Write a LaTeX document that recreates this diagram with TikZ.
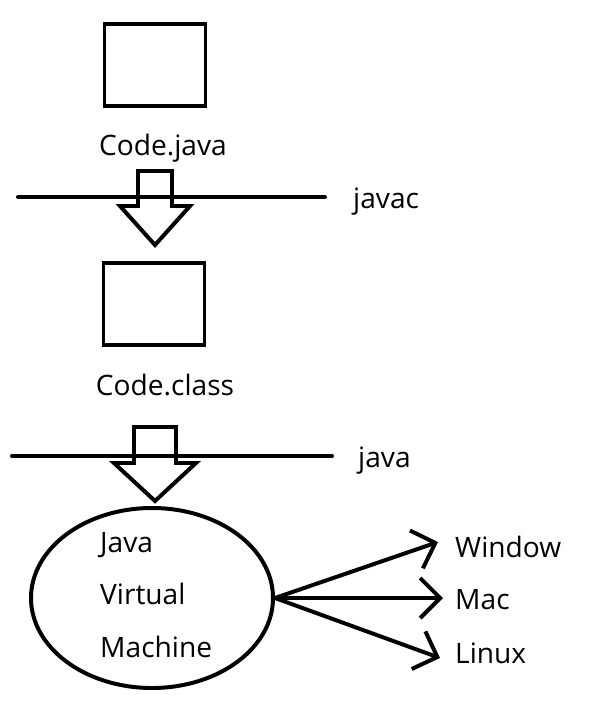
\documentclass[tikz,border=0pt]{standalone}
\usepackage{fontspec}
\setmainfont{Open Sans}
\usetikzlibrary{positioning,arrows.meta,shapes.geometric}

\begin{document}
\begin{tikzpicture}[
  x=0.03cm, y=-0.03cm,
  every node/.style={font=\fontsize{24}{28}\selectfont, inner sep=0pt},
  thickline/.style={line width=3.4pt, line cap=round},
  filebox/.style={draw, line width=3.4pt, minimum width=3.03cm, minimum height=2.46cm},
  lbl/.style={anchor=base west},
  vmarrow/.style={line width=3.4pt, -{Straight Barb[length=0.6cm, width=1.2cm, line width=3.4pt]}},
]
  \useasboundingbox (0,0) rectangle (588,705);

  % source file
  \node[filebox] (src) at (155,65) {};
  \node[anchor=base] (srcname) at (163,155) {Code.java};

  % javac step
  \coordinate (c1l) at (18,197);
  \coordinate (c1r) at (325,197);
  \draw[thickline] (c1l) -- (c1r);
  \node[lbl] (javac) at (353,208) {javac};
  \coordinate (a1) at (155,171);
  \draw[line width=3.4pt, line join=miter]
    (a1) ++(-17,0) -- ++(0,35) -- ++(-18,0) -- ++(35,39) -- ++(35,-39)
    -- ++(-18,0) -- ++(0,-35) -- cycle;

  % class file
  \node[filebox] (cls) at (154,304) {};
  \node[anchor=base] (clsname) at (165,395) {Code.class};

  % java step
  \coordinate (c2l) at (12,456);
  \coordinate (c2r) at (332,456);
  \draw[thickline] (c2l) -- (c2r);
  \node[lbl] (java) at (358,467) {java};
  \coordinate (a2) at (155,427);
  \draw[line width=3.4pt, line join=miter]
    (a2) ++(-21,0) -- ++(0,36) -- ++(-20,0) -- ++(41,38) -- ++(41,-38)
    -- ++(-20,0) -- ++(0,-36) -- cycle;

  % virtual machine
  \node[draw, ellipse, line width=3.4pt, minimum width=7.26cm, minimum height=5.4cm] (jvm) at (152,598) {};
  \node[lbl] (jvm1) at (100,552) {Java};
  \node[lbl] (jvm2) at (100,604) {Virtual};
  \node[lbl] (jvm3) at (100,657) {Machine};

  % platforms
  \node[lbl] (win) at (455,557) {Window};
  \node[lbl] (mac) at (455,609) {Mac};
  \node[lbl] (linux) at (455,663) {Linux};
  \coordinate (winend) at (438,542);
  \coordinate (macend) at (443,598);
  \coordinate (linuxend) at (440,658);
  \draw[vmarrow] (jvm.east) -- (winend);
  \draw[vmarrow] (jvm.east) -- (macend);
  \draw[vmarrow] (jvm.east) -- (linuxend);
\end{tikzpicture}
\end{document}
